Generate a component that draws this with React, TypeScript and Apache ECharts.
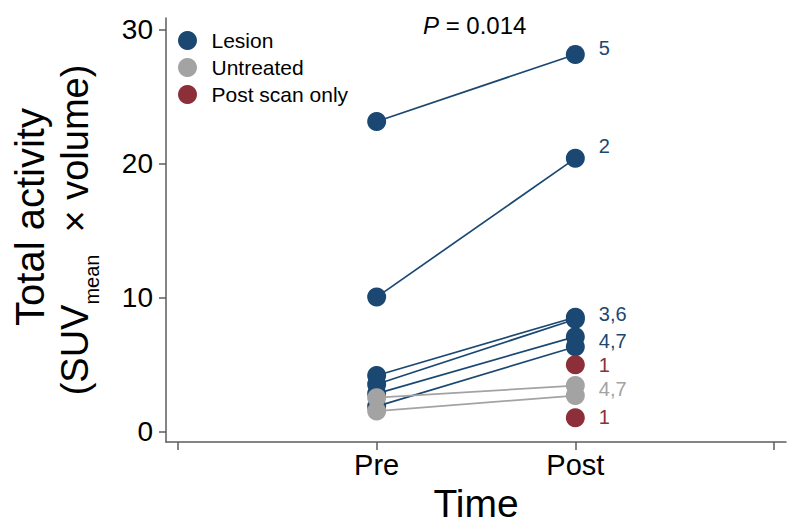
import React, { useEffect, useRef } from 'react';
import * as echarts from 'echarts';

// ---- data ----
const timeLabels = ['Pre', 'Post'];
const timeX = [1, 2];
const xTicks = [0, 1, 2, 3];
const yTicks = [0, 10, 20, 30];

const lesionPre = [23.15, 10.05, 4.2, 3.55, 2.85, 1.9];
const lesionPost = [28.15, 20.4, 8.55, 8.4, 7.1, 6.35];
const untreatedPre = [2.55, 1.55];
const untreatedPost = [3.45, 2.7];
const postScanOnly = [5.0, 1.05];

const pointLabels = ['5', '2', '3,6', '4,7', '1', '4,7', '1'];
const pointLabelY = [28.63, 21.29, 8.77, 6.76, 4.96, 3.18, 1.09];
const pointLabelGroup = ['Lesion', 'Lesion', 'Lesion', 'Lesion', 'Post scan only', 'Untreated', 'Post scan only'];

const legendNames = ['Lesion', 'Untreated', 'Post scan only'];
const pText = ' = 0.014';

// ---- style ----
const BLUE = '#1b4872';
const GRAY = '#a3a3a3';
const RED = '#8c2f39';
const AXIS = '#5c5c5c';
const FONT = '"Liberation Sans", Arial, Helvetica, sans-serif';
const groupColor: Record<string, string> = { Lesion: BLUE, Untreated: GRAY, 'Post scan only': RED };

function measure(text: string, size: number): number {
  const ctx = document.createElement('canvas').getContext('2d');
  if (!ctx) return text.length * size * 0.55;
  ctx.font = `${size}px ${FONT}`;
  return ctx.measureText(text).width;
}

export default function App() {
  const ref = useRef<HTMLDivElement>(null);
  useEffect(() => {
    if (!ref.current) return;
    const chart = echarts.init(ref.current, undefined, { renderer: 'svg' });

    const series: any[] = [];
    lesionPre.forEach((v, i) => {
      series.push({
        type: 'line', name: 'lesion-line-' + i, data: [[timeX[0], v], [timeX[1], lesionPost[i]]],
        symbol: 'none', lineStyle: { color: BLUE, width: 1.7 }, z: 2, silent: true,
      });
    });
    series.push({
      type: 'scatter', name: 'Lesion', symbolSize: 19, z: 3,
      itemStyle: { color: BLUE, opacity: 1 },
      data: [...lesionPre.map(v => [timeX[0], v]), ...lesionPost.map(v => [timeX[1], v])],
    });
    untreatedPre.forEach((v, i) => {
      series.push({
        type: 'line', name: 'untreated-line-' + i, data: [[timeX[0], v], [timeX[1], untreatedPost[i]]],
        symbol: 'none', lineStyle: { color: GRAY, width: 1.7 }, z: 4, silent: true,
      });
    });
    series.push({
      type: 'scatter', name: 'Untreated', symbolSize: 19, z: 5,
      itemStyle: { color: GRAY, opacity: 1 },
      data: [...untreatedPre.map(v => [timeX[0], v]), ...untreatedPost.map(v => [timeX[1], v])],
    });
    series.push({
      type: 'scatter', name: 'Post scan only', symbolSize: 19, z: 5,
      itemStyle: { color: RED, opacity: 1 },
      data: postScanOnly.map(v => [timeX[1], v]),
    });
    series.push({
      type: 'scatter', name: 'point-labels', symbolSize: 1, z: 6, silent: true,
      itemStyle: { color: 'rgba(0,0,0,0)', opacity: 1 },
      label: { show: true, position: 'right', distance: 23, fontSize: 20, fontFamily: FONT, opacity: 1 },
      data: pointLabels.map((t, i) => ({
        value: [timeX[1], pointLabelY[i]],
        label: { formatter: t, color: groupColor[pointLabelGroup[i]] },
      })),
    });

    // y-axis title layout (two rotated lines, subscript "mean")
    const big = 38, small = 20, gap = 22;
    const wA = measure('(SUV', big);
    const wM = measure('mean', small);
    const wB = measure('× volume)', big);
    const total = wA + wM + gap + wB;
    const startY = 230 + total / 2;
    const rot = Math.PI / 2;
    const tstyle = (text: string, size: number, align: string) => ({
      text, fontSize: size, fontFamily: FONT, fill: '#000', align, verticalAlign: 'middle',
    });

    chart.setOption({
      animation: false,
      backgroundColor: '#fff',
      grid: { left: 166, right: 14, top: 18, bottom: 85 },
      legend: {
        data: legendNames, orient: 'vertical', left: 173, top: 25,
        icon: 'circle', itemWidth: 38, itemHeight: 19, itemGap: 6,
        textStyle: { fontSize: 21, fontFamily: FONT, color: '#000', lineHeight: 19 },
        selectedMode: false,
      },
      xAxis: {
        type: 'value', min: -0.0604, max: 3.0604,
        axisLine: { onZero: false, lineStyle: { color: AXIS, width: 1.5 } },
        axisTick: { customValues: xTicks, length: 8, lineStyle: { color: AXIS, width: 1.5 } },
        axisLabel: {
          customValues: timeX, fontSize: 29, fontFamily: FONT, color: '#000', margin: 8,
          formatter: (v: number) => timeLabels[timeX.indexOf(Math.round(v))] ?? '',
        },
        splitLine: { show: false },
        name: 'Time', nameLocation: 'middle', nameGap: 35,
        nameTextStyle: { fontSize: 39, fontFamily: FONT, color: '#000' },
      },
      yAxis: {
        type: 'value', min: -0.767, max: 30.87,
        axisLine: { onZero: false, lineStyle: { color: AXIS, width: 1.5 } },
        axisTick: { customValues: yTicks, length: 7, lineStyle: { color: AXIS, width: 1.5 } },
        axisLabel: { customValues: yTicks, fontSize: 28, fontFamily: FONT, color: '#000', margin: 13 },
        splitLine: { show: false },
      },
      graphic: [
        { type: 'text', x: 30, y: 217, rotation: rot, style: tstyle('Total activity', 40, 'center') },
        { type: 'text', x: 75, y: startY, rotation: rot, style: tstyle('(SUV', big, 'left') },
        { type: 'text', x: 92, y: startY - wA, rotation: rot, style: tstyle('mean', small, 'left') },
        { type: 'text', x: 75, y: startY - wA - wM - gap, rotation: rot, style: tstyle('× volume)', big, 'left') },
        {
          type: 'text', x: 423, y: 25,
          style: {
            text: '{i|P}' + pText, fontSize: 24, fontFamily: FONT, fill: '#000', verticalAlign: 'middle',
            rich: { i: { fontStyle: 'italic', fontSize: 24, fontFamily: FONT, fill: '#000' } },
          },
        },
      ],
      series,
    });
    return () => chart.dispose();
  }, []);
  return <div ref={ref} style={{ position: 'fixed', left: 0, top: 0, width: 800, height: 528 }} />;
}
